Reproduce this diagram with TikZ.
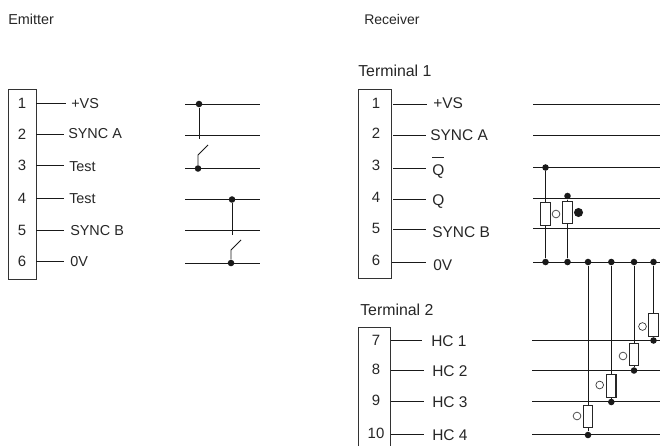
\documentclass[tikz,border=0pt]{standalone}
\usepackage{fontspec}
\setmainfont{Liberation Sans}
\newcommand{\qbar}{\rlap{\raisebox{12.8pt}{\rule{9pt}{0.75pt}}}Q}
\tikzset{
  wire/.style={line width=0.72pt,draw=black!90},
  lbl/.style={anchor=base west,inner sep=0pt,font=\fontsize{10.8}{13}\selectfont,text=black!85},
  lblb/.style={lbl,font=\fontsize{11.6}{13}\selectfont},
  lblc/.style={lbl,font=\fontsize{11.9}{13}\selectfont},
  num/.style={anchor=base,inner sep=0pt,font=\fontsize{11.2}{13}\selectfont,text=black!85},
  term/.style={draw=black!80,line width=0.72pt,fill=none},
  dotn/.style={circle,fill=black!90,draw=none,inner sep=0pt,minimum size=4.9pt},
  res/.style={draw=black!85,line width=0.95pt,fill=white,inner sep=0pt,minimum width=7pt,minimum height=17pt},
  oc/.style={circle,draw=black!75,line width=0.55pt,fill=white,inner sep=0pt,minimum size=5.8pt},
  fc/.style={circle,fill=black!90,draw=none,inner sep=0pt,minimum size=6.8pt}
}
\begin{document}
\begin{tikzpicture}[x=0.75pt,y=-0.75pt]
\useasboundingbox (0,0) rectangle (660,446);
% headings
\node[lbl] (emit) at (8,24) {Emitter};
\node[lbl,font=\fontsize{10.5}{13}\selectfont] (recv) at (364,24) {Receiver};
\node[lblc] (t1) at (358,76) {Terminal 1};
\node[lblc] (t2) at (360,315) {Terminal 2};
% terminal boxes
\node[term,anchor=north west,inner sep=0pt,minimum width=21pt,minimum height=142.5pt] (boxE) at (8,89) {};
\node[term,anchor=north west,inner sep=0pt,minimum width=24.8pt,minimum height=141.8pt] (boxR) at (358,89) {};
\coordinate (b2a) at (358.5,446); \coordinate (b2b) at (358.5,327.5);
\coordinate (b2c) at (390.5,327.5); \coordinate (b2d) at (390.5,446);
\draw[term] (b2a) -- (b2b) -- (b2c) -- (b2d);
% emitter pins
\foreach \n/\t/\y/\e/\lx/\ly/\s in {1/{+VS}/103/66/71/108/e1,2/{SYNC A}/134/64/68/138/e2,3/{Test}/165/64/69/171/e3,4/{Test}/198/64/69/203/e4,5/{SYNC B}/230/64/70/235/e5,6/{0V}/261/64/70/266/e6}{
  \node[num] (n\s) at (22,\y+5) {\n};
  \coordinate (a\s) at (36,\y+0.5);
  \coordinate (b\s) at (\e,\y+0.5);
  \draw[wire] (a\s) -- (b\s);
  \node[lbl] (l\s) at (\lx,\ly) {\t};
}
% emitter circuits
\foreach \s/\y in {p1/104,p2/135,p3/168.5,p4/199.5,p5/230.5,p6/263}{
  \coordinate (L\s) at (185,\y);
  \coordinate (R\s) at (260,\y);
  \draw[wire] (L\s) -- (R\s);
}
\node[dotn] (ed1) at (199,104) {};
\coordinate (ee1) at (199,139);
\draw[wire] (ed1) -- (ee1);
\node[dotn] (ed2) at (198,168.5) {};
\coordinate (es2) at (198,155); \coordinate (et2) at (208,145);
\draw[wire] (ed2) -- (es2) -- (et2);
\node[dotn] (ed3) at (232,199.5) {};
\coordinate (ee3) at (232,235);
\draw[wire] (ed3) -- (ee3);
\node[dotn] (ed4) at (231,263) {};
\coordinate (es4) at (231,250); \coordinate (et4) at (241,240);
\draw[wire] (ed4) -- (es4) -- (et4);
% receiver pins
\foreach \n/\t/\ny/\y/\sa/\sb/\lx/\ly/\s in {1/{+VS}/103/104/393/427/433/108/r1,2/{SYNC A}/133/135/393/426/430/140/r2,3/{\qbar}/165/168/393/426/432/175/r3,4/{Q}/197/199/393/426/432/205/r4,5/{SYNC B}/228/229/393/426/432/237/r5,6/{0V}/260/262/392/426/433/270/r6,7/{HC 1}/340/340/391/422/431/346/r7,8/{HC 2}/369/370.5/391/424/432/376/r8,9/{HC 3}/400/401/391/424/432/407/r9,10/{HC 4}/433/434.5/391/424/432/440/r10}{
  \node[num] (n\s) at (376,\ny+5) {\n};
  \coordinate (a\s) at (\sa,\y);
  \coordinate (b\s) at (\sb,\y);
  \draw[wire] (a\s) -- (b\s);
  \node[lblb] (l\s) at (\lx,\ly) {\t};
}
% receiver bus lines
\foreach \s/\y/\x in {q1/104/533,q2/135/533,q3/167.5/533,q4/198.5/533,q5/228/533,q6/262/533,q7/340/532,q8/370.7/532,q9/401.7/532,q10/434.7/532}{
  \coordinate (L\s) at (\x,\y);
  \coordinate (R\s) at (660,\y);
  \draw[wire] (L\s) -- (R\s);
}
% Q / Q-bar resistors
\node[dotn] (t3) at (545.5,167.5) {};
\node[res] (r1) at (545.5,214) {};
\node[dotn] (g1) at (545.5,262) {};
\draw[wire] (t3) -- (r1.north);
\draw[wire] (r1.south) -- (g1);
\node[oc] (o1) at (556,214) {};
\node[dotn] (t4) at (567.5,196) {};
\node[res] (r2) at (567.5,212.5) {};
\node[dotn] (g2) at (567.5,262) {};
\draw[wire] (t4) -- (r2.north);
\draw[wire] (r2.south) -- (g2);
\node[fc] (f2) at (578.5,212.5) {};
% HC resistors
\foreach \i/\x/\ry/\ly/\ox/\oy in {a/653.5/325/340.5/642.5/326.5,b/634/354.5/370.5/623/356,c/611.3/385.8/402/599.7/385,d/588/416.5/435/577/416}{
  \node[dotn] (g\i) at (\x,262) {};
  \node[res] (h\i) at (\x,\ry) {};
  \node[dotn] (k\i) at (\x,\ly) {};
  \node[oc] (o\i) at (\ox,\oy) {};
  \draw[wire] (g\i) -- (h\i.north);
  \draw[wire] (h\i.south) -- (k\i);
}
\end{tikzpicture}
\end{document}
